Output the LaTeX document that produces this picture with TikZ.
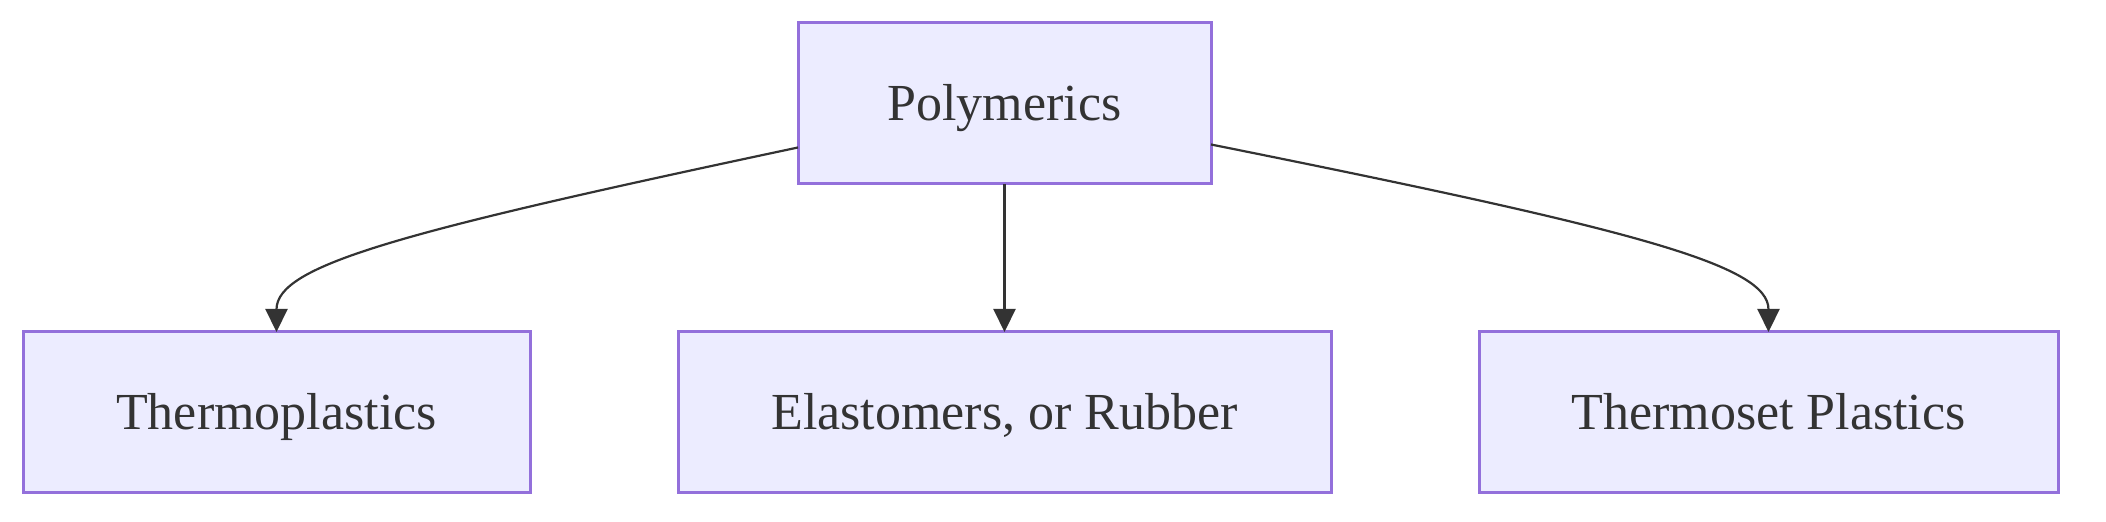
\documentclass[tikz,border=0pt]{standalone}
\usepackage{fontspec}
\setmainfont{Liberation Serif}
\usetikzlibrary{arrows.meta}
\definecolor{boxfill}{HTML}{ECECFF}
\definecolor{boxline}{HTML}{9370DB}
\definecolor{ink}{HTML}{333333}
\begin{document}
\begin{tikzpicture}[x=0.5pt,y=-0.5pt,
  box/.style={draw=boxline,fill=boxfill,line width=1.5pt,minimum height=80.5pt,
    inner sep=0pt,outer sep=0pt,text=ink,font=\fontsize{26}{30}\selectfont,
    text height=17.2pt,text depth=0pt,align=center},
  link/.style={draw=ink,line width=1.1pt,-{Triangle[length=11.5pt,width=11pt]}}]
\useasboundingbox (0,0) rectangle (2106,522);
\node[box,minimum width=206.5pt] (poly) at (1004.5,103.5) {Polymerics};
\node[box,minimum width=253.5pt] (thermo) at (276.5,412.5) {Thermoplastics};
\node[box,minimum width=326.5pt] (elast) at (1004.5,412.5) {Elastomers, or Rubber};
\node[box,minimum width=289.5pt] (tset) at (1768.5,412.5) {Thermoset Plastics};
\draw[link] ([yshift=-22pt]poly.west) .. controls (400,232) and (276.5,265) .. (thermo.north);
\draw[link] (poly.south) -- (elast.north);
\draw[link] ([yshift=-20.5pt]poly.east) .. controls (1637,230) and (1768.5,265) .. (tset.north);
\end{tikzpicture}
\end{document}
